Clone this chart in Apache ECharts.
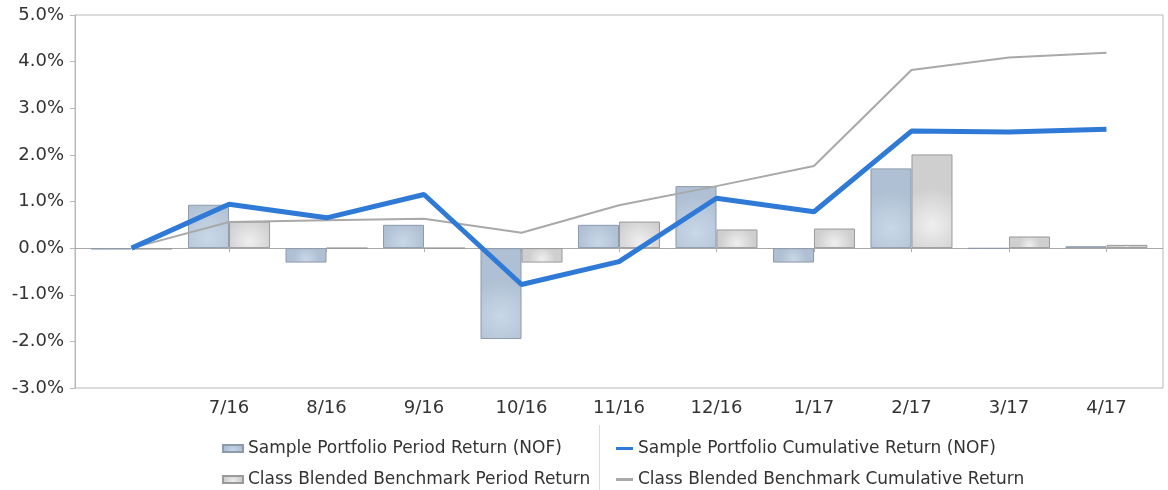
<!DOCTYPE html>
<html>
<head>
<meta charset="utf-8">
<script src="https://cdn.jsdelivr.net/npm/echarts@6/dist/echarts.min.js"></script>
<style>
html,body{margin:0;padding:0;background:#fff;}
#chart{width:1168px;height:490px;}
</style>
</head>
<body>
<div id="chart"></div>
<script>
// ---- Data ----
const categories = ['', '7/16', '8/16', '9/16', '10/16', '11/16', '12/16', '1/17', '2/17', '3/17', '4/17'];
const portfolioPeriod = [-0.03, 0.93, -0.31, 0.50, -1.95, 0.50, 1.33, -0.31, 1.71, -0.01, 0.04];
const benchmarkPeriod = [-0.03, 0.57, 0.00, 0.00, -0.31, 0.57, 0.40, 0.42, 2.01, 0.25, 0.07];
const portfolioCumulative = [0.00, 0.94, 0.65, 1.15, -0.78, -0.29, 1.07, 0.78, 2.51, 2.49, 2.55];
const benchmarkCumulative = [0.00, 0.56, 0.60, 0.63, 0.33, 0.92, 1.33, 1.76, 3.82, 4.09, 4.19];
const yTicks = [-3, -2, -1, 0, 1, 2, 3, 4, 5];
const seriesNames = [
  'Sample Portfolio Period Return (NOF)',
  'Class Blended Benchmark Period Return',
  'Sample Portfolio Cumulative Return (NOF)',
  'Class Blended Benchmark Cumulative Return'
];

const pairs = arr => arr.map((v, i) => [i, v]);
const tickIdx = categories.map((c, i) => i).filter(i => categories[i] !== '');

const FONT = 'DejaVu Sans';
const chart = echarts.init(document.getElementById('chart'), null, {renderer: 'canvas'});

const blueGrad = {type: 'radial', x: 0.5, y: 0.75, r: 0.9,
  colorStops: [{offset: 0, color: '#c9d7e7'}, {offset: 1, color: '#afc0d4'}]};
const greyGrad = {type: 'radial', x: 0.5, y: 0.75, r: 0.9,
  colorStops: [{offset: 0, color: '#efefef'}, {offset: 1, color: '#cfcfcf'}]};

function mkLegend(name, left, top, w, h) {
  return {
    orient: 'horizontal', left: left, top: top,
    itemWidth: w, itemHeight: h,
    textStyle: {fontSize: 17, color: '#333', fontFamily: FONT},
    data: [{name: name, icon: 'rect'}],
    selectedMode: false
  };
}

chart.setOption({
  animation: false,
  backgroundColor: '#fff',
  textStyle: {fontFamily: FONT},
  grid: {left: 75, right: 5, top: 15, bottom: 102, show: true, borderColor: '#b8b8b8', borderWidth: 1, containLabel: false},
  xAxis: {
    type: 'value',
    min: -0.58, max: 10.58,
    splitLine: {show: false},
    axisLine: {show: false},
    axisTick: {show: true, length: 4, lineStyle: {color: '#b0b0b0'}, customValues: tickIdx},
    axisLabel: {
      customValues: tickIdx,
      formatter: v => categories[Math.round(v)] || '',
      color: '#333', fontSize: 18, fontFamily: FONT, margin: 11
    }
  },
  yAxis: {
    type: 'value',
    min: yTicks[0], max: yTicks[yTicks.length - 1], interval: 1,
    splitLine: {show: false},
    axisLine: {show: true, onZero: false, lineStyle: {color: '#b8b8b8'}},
    axisTick: {show: true, length: 5, lineStyle: {color: '#b8b8b8'}},
    axisLabel: {formatter: v => v.toFixed(1) + '%', color: '#333', fontSize: 18, fontFamily: FONT, margin: 11}
  },
  legend: [
    mkLegend(seriesNames[0], 217, 435, 20, 7),
    mkLegend(seriesNames[1], 217, 466, 20, 7),
    mkLegend(seriesNames[2], 611, 435, 17, 3),
    mkLegend(seriesNames[3], 611, 466, 17, 3)
  ],
  graphic: [
    {type: 'line', shape: {x1: 599.5, y1: 425, x2: 599.5, y2: 490}, style: {stroke: '#dcdcdc', lineWidth: 1}, silent: true}
  ],
  series: [
    {
      name: seriesNames[0], type: 'bar', data: pairs(portfolioPeriod),
      barWidth: 41, barGap: '0%',
      itemStyle: {color: blueGrad, borderColor: '#8f9aa8', borderWidth: 1},
      markLine: {
        silent: true, symbol: 'none', label: {show: false},
        lineStyle: {color: '#a8a8a8', width: 1, type: 'solid'},
        data: [{yAxis: 0}], z: 1
      },
      z: 2
    },
    {
      name: seriesNames[1], type: 'bar', data: pairs(benchmarkPeriod),
      barWidth: 41, barGap: '0%',
      itemStyle: {color: greyGrad, borderColor: '#9a9a9a', borderWidth: 1},
      z: 2
    },
    {
      name: seriesNames[3], type: 'line', data: pairs(benchmarkCumulative),
      showSymbol: false, symbol: 'none',
      lineStyle: {color: '#a9a9a9', width: 2},
      itemStyle: {color: '#a9a9a9'},
      z: 3
    },
    {
      name: seriesNames[2], type: 'line', data: pairs(portfolioCumulative),
      showSymbol: false, symbol: 'none',
      lineStyle: {color: '#2f7ad6', width: 5},
      itemStyle: {color: '#2f7ad6'},
      z: 4
    }
  ]
});
</script>
</body>
</html>
